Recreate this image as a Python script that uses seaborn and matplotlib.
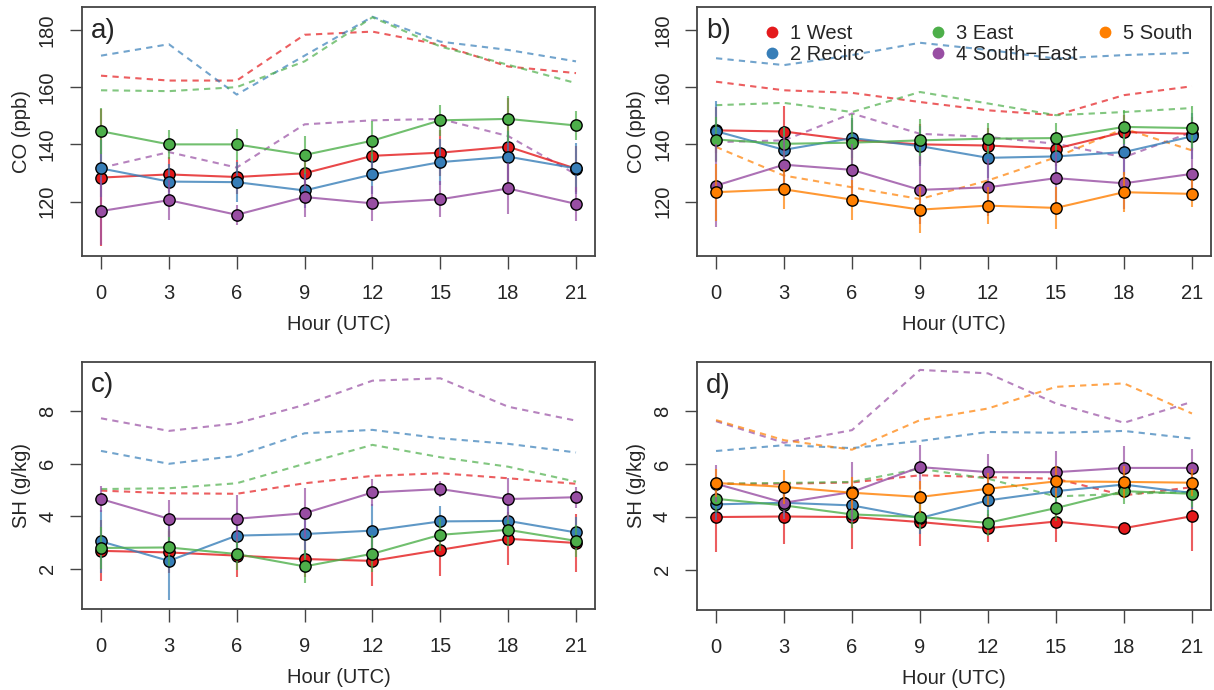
import matplotlib
matplotlib.use('Agg')
import numpy as np
import pandas as pd
import seaborn as sns
import matplotlib.pyplot as plt
from matplotlib.lines import Line2D

sns.set_style('white')
plt.rcParams['font.family'] = ['Liberation Sans', 'DejaVu Sans']

hours = [0, 3, 6, 9, 12, 15, 18, 21]
regimes = ['1 West', '2 Recirc', '3 East', '4 South\u2212East', '5 South']
colors = ['#E41A1C', '#377EB8', '#4DAF4A', '#984EA3', '#FF7F00']

# ---- panel a : CO (ppb), mean / spread / dashed upper curve
west_a = [128.4, 129.5, 128.6, 129.9, 136.0, 137.1, 139.2, 131.5]
recirc_a = [131.6, 127.0, 126.8, 123.9, 129.5, 133.8, 135.7, 131.6]
east_a = [144.6, 140.0, 140.0, 136.3, 141.3, 148.4, 148.9, 146.6]
se_a = [116.7, 120.5, 115.4, 121.6, 119.4, 120.8, 124.6, 119.2]
west_a_err = [24, 6, 6, 6, 7, 8, 17, 8]
recirc_a_err = [10, 6, 7, 6, 7, 8, 9, 9]
east_a_err = [8, 5, 5.5, 6.5, 7, 5.5, 8, 5]
se_a_err = [12, 7, 3.5, 6.8, 6, 6.3, 9, 6]
west_a_dash = [164.0, 162.3, 162.3, 178.3, 179.4, 174.8, 167.2, 164.9]
recirc_a_dash = [171.0, 175.0, 157.4, 171.0, 184.6, 175.9, 173.0, 169.0]
east_a_dash = [158.9, 158.6, 160.0, 169.0, 184.4, 174.2, 167.8, 161.4]
se_a_dash = [131.8, 137.3, 131.9, 147.0, 148.4, 148.9, 142.9, 129.5]

# ---- panel b : CO (ppb)
west_b = [144.9, 144.5, 141.5, 140.0, 139.6, 138.5, 144.3, 143.7]
recirc_b = [144.6, 138.1, 142.2, 139.4, 135.3, 135.8, 137.3, 142.8]
east_b = [141.7, 140.2, 140.6, 141.4, 142.0, 142.2, 146.1, 145.7]
se_b = [125.6, 132.9, 131.1, 124.1, 125.0, 128.2, 126.4, 129.7]
south_b = [123.3, 124.3, 120.7, 117.2, 118.6, 117.8, 123.3, 122.7]
west_b_err = [8, 9, 7, 7, 6, 6, 6, 6]
recirc_b_err = [10.5, 8, 7, 7, 7, 7, 8, 8]
east_b_err = [8, 6, 10, 7.6, 5.3, 5.1, 5.8, 7.6]
se_b_err = [14.6, 10, 9, 12, 10, 9, 9, 9]
south_b_err = [10, 7, 7, 8, 6.4, 7.4, 7, 4.7]
west_b_dash = [161.9, 158.9, 158.0, 154.8, 151.9, 150.2, 157.2, 160.3]
recirc_b_dash = [170.1, 167.7, 171.2, 175.5, 173.0, 170.0, 171.2, 172.0]
east_b_dash = [153.7, 154.5, 151.3, 158.3, 154.3, 150.2, 151.3, 152.7]
se_b_dash = [140.8, 141.4, 150.8, 143.7, 142.6, 140.2, 135.5, 144.3]
south_b_dash = [139.1, 129.1, 125.0, 120.9, 127.4, 135.5, 145.5, 137.9]

# ---- panel c : SH (g/kg)
west_c = [2.68, 2.62, 2.50, 2.37, 2.30, 2.72, 3.14, 2.98]
recirc_c = [3.04, 2.30, 3.26, 3.32, 3.45, 3.80, 3.82, 3.38]
east_c = [2.79, 2.81, 2.56, 2.09, 2.57, 3.29, 3.48, 3.06]
se_c = [4.65, 3.90, 3.90, 4.11, 4.90, 5.03, 4.65, 4.72]
west_c_err = [1.16, 0.8, 0.8, 0.7, 0.95, 1.0, 1.0, 1.1]
recirc_c_err = [1.2, 1.5, 0.9, 0.9, 1.0, 0.57, 0.7, 0.6]
east_c_err = [0.8, 0.7, 0.6, 0.63, 0.7, 0.6, 0.6, 0.6]
se_c_err = [0.5, 0.7, 0.9, 0.95, 0.5, 0.3, 0.8, 0.4]
west_c_dash = [4.97, 4.87, 4.85, 5.25, 5.53, 5.63, 5.44, 5.23]
recirc_c_dash = [6.48, 5.99, 6.29, 7.15, 7.28, 6.96, 6.75, 6.42]
east_c_dash = [5.03, 5.06, 5.25, 5.99, 6.71, 6.24, 5.88, 5.31]
se_c_dash = [7.72, 7.24, 7.53, 8.23, 9.15, 9.24, 8.16, 7.63]

# ---- panel d : SH (g/kg)
west_d = [3.99, 4.01, 3.99, 3.80, 3.57, 3.82, 3.57, 4.02]
recirc_d = [4.47, 4.53, 4.43, 3.95, 4.62, 4.97, 5.22, 4.90]
east_d = [4.68, 4.43, 4.09, 3.99, 3.77, 4.33, 4.97, 4.87]
se_d = [5.25, 4.53, 4.94, 5.88, 5.69, 5.69, 5.85, 5.85]
south_d = [5.28, 5.13, 4.91, 4.75, 5.06, 5.34, 5.32, 5.29]
west_d_err = [1.33, 1.03, 1.2, 0.89, 0.53, 0.78, 0.15, 1.3]
recirc_d_err = [0.6, 0.5, 0.6, 0.6, 0.6, 0.6, 0.5, 0.6]
east_d_err = [0.5, 0.5, 0.5, 0.5, 0.5, 0.5, 0.5, 0.5]
se_d_err = [0.7, 0.6, 1.13, 0.83, 0.68, 0.79, 0.82, 0.71]
south_d_err = [0.54, 0.63, 0.6, 0.6, 0.6, 0.6, 0.6, 0.5]
west_d_dash = [5.25, 5.25, 5.30, 5.57, 5.50, 5.44, 4.81, 5.12]
recirc_d_dash = [6.49, 6.71, 6.60, 6.87, 7.21, 7.18, 7.25, 6.96]
east_d_dash = [5.25, 5.28, 5.32, 5.82, 5.44, 4.77, 4.87, 4.94]
se_d_dash = [7.62, 6.80, 7.28, 9.56, 9.43, 8.29, 7.56, 8.35]
south_d_dash = [7.66, 6.90, 6.54, 7.66, 8.10, 8.92, 9.05, 7.91]

FS = 14.5
W, H = 1214, 690

def make_axes(fig, l, r, t, b):
    return fig.add_axes([l / W, 1 - b / H, (r - l) / W, (b - t) / H])

def draw_panel(ax, means, errs, dashes, ylim, yticks, ylabel, tag):
    n = len(means)
    # dashed curves go underneath
    for i in range(n):
        sns.lineplot(x=hours, y=dashes[i], color=colors[i], ax=ax, lw=1.5,
                     alpha=0.7, linestyle=(0, (3, 2.5)), legend=False)
    for i in range(n):
        m = np.array(means[i])
        e = np.array(errs[i])
        ax.vlines(hours, m - e, m + e, colors=colors[i], lw=1.5, alpha=0.7, zorder=2 + i)
        sns.lineplot(x=hours, y=means[i], color=colors[i], ax=ax, lw=1.5,
                     alpha=0.8, legend=False, zorder=2 + i)
        sns.scatterplot(x=hours, y=means[i], color=colors[i], edgecolor='black',
                        linewidth=1.0, s=66, ax=ax, legend=False, zorder=3 + i)
    ax.set_xlim(-0.84, 21.84)
    ax.set_ylim(*ylim)
    ax.set_xticks(hours)
    ax.set_yticks(yticks)
    ax.set_xlabel('Hour (UTC)', fontsize=FS, labelpad=9)
    ax.set_ylabel(ylabel, fontsize=FS, labelpad=5)
    ax.tick_params(axis='both', direction='out', length=9, width=1.0,
                   color='#444444', labelsize=FS, left=True, bottom=True)
    ax.tick_params(axis='x', pad=11)
    ax.tick_params(axis='y', pad=9)
    for lab in ax.get_yticklabels():
        lab.set_rotation(90)
        lab.set_va('center')
    for sp in ax.spines.values():
        sp.set_color('#444444')
        sp.set_linewidth(1.3)
    ax.text(0.018, 0.905, tag, transform=ax.transAxes, fontsize=20,
            ha='left', va='center')

fig = plt.figure(figsize=(W / 100, H / 100), dpi=100)
ax_a = make_axes(fig, 82, 595, 7, 256)
ax_b = make_axes(fig, 697, 1211, 7, 256)
ax_c = make_axes(fig, 82, 595, 362, 609)
ax_d = make_axes(fig, 697, 1211, 362, 610)

draw_panel(ax_a, [west_a, recirc_a, east_a, se_a],
           [west_a_err, recirc_a_err, east_a_err, se_a_err],
           [west_a_dash, recirc_a_dash, east_a_dash, se_a_dash],
           (101, 188), [120, 140, 160, 180], 'CO (ppb)', 'a)')
draw_panel(ax_b, [west_b, recirc_b, east_b, se_b, south_b],
           [west_b_err, recirc_b_err, east_b_err, se_b_err, south_b_err],
           [west_b_dash, recirc_b_dash, east_b_dash, se_b_dash, south_b_dash],
           (101, 188), [120, 140, 160, 180], 'CO (ppb)', 'b)')
draw_panel(ax_c, [west_c, recirc_c, east_c, se_c],
           [west_c_err, recirc_c_err, east_c_err, se_c_err],
           [west_c_dash, recirc_c_dash, east_c_dash, se_c_dash],
           (0.47, 9.86), [2, 4, 6, 8], 'SH (g/kg)', 'c)')
draw_panel(ax_d, [west_d, recirc_d, east_d, se_d, south_d],
           [west_d_err, recirc_d_err, east_d_err, se_d_err, south_d_err],
           [west_d_dash, recirc_d_dash, east_d_dash, se_d_dash, south_d_dash],
           (0.47, 9.86), [2, 4, 6, 8], 'SH (g/kg)', 'd)')

# legend in panel b: R-style equal-width columns -> one legend per column
col_groups = [[0, 1], [2, 3], [4]]
col_x = [0.1265, 0.4494, 0.774]
for k, (grp, x0) in enumerate(zip(col_groups, col_x)):
    handles = [Line2D([], [], ls='none', marker='o', markersize=8.5,
                      markerfacecolor=colors[i], markeredgewidth=0) for i in grp]
    leg = ax_b.legend(handles, [regimes[i] for i in grp], loc='upper left',
                      bbox_to_anchor=(x0, 0.93), frameon=False, fontsize=FS,
                      handlelength=1.0, handletextpad=0.4, labelspacing=0.1,
                      borderpad=0, borderaxespad=0)
    if k < len(col_groups) - 1:
        ax_b.add_artist(leg)

fig.savefig('out.png', dpi=100)
